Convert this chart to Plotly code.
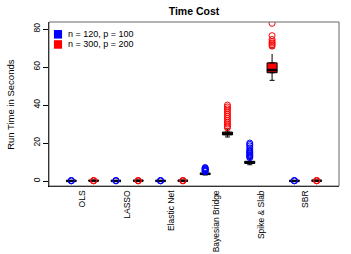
import plotly.graph_objects as go

methods = ["OLS", "LASSO", "Elastic Net", "Bayesian Bridge", "Spike & Slab", "SBR"]
groups = ["n = 120, p = 100", "n = 300, p = 200"]
colors = ["#0000FF", "#FF0000"]

# box statistics per method: [group1, group2]
q1 = [[0.05, 0.15], [0.05, 0.15], [0.05, 0.15], [3.5, 24.3], [9.3, 57.0], [0.05, 0.15]]
med = [[0.1, 0.2], [0.1, 0.2], [0.1, 0.2], [3.8, 24.9], [9.8, 58.4], [0.1, 0.2]]
q3 = [[0.15, 0.3], [0.15, 0.3], [0.15, 0.3], [4.1, 25.8], [10.4, 62.2], [0.15, 0.3]]
lo = [[0.0, 0.05], [0.0, 0.05], [0.0, 0.05], [3.2, 23.2], [8.6, 53.0], [0.0, 0.05]]
hi = [[0.25, 0.45], [0.25, 0.45], [0.25, 0.45], [4.8, 27.4], [11.8, 70.0], [0.25, 0.45]]
outliers = [
    [[0.1, 0.2, 0.3], [0.1, 0.2, 0.3]],
    [[0.1, 0.2, 0.3], [0.1, 0.2, 0.3]],
    [[0.1, 0.2, 0.3], [0.1, 0.2, 0.3]],
    [[5.0, 5.3, 5.6, 5.9, 6.2, 6.5, 6.8, 7.1],
     [28.0, 29.0, 30.0, 31.0, 32.0, 33.0, 34.0, 35.0, 36.0, 37.0, 38.0, 39.0, 40.0]],
    [[12.3, 12.8, 13.3, 13.8, 14.3, 14.8, 15.3, 15.8, 16.5, 17.5, 18.5, 19.3, 20.0],
     [71.0, 71.8, 72.6, 73.4, 74.5, 76.5, 83.0]],
    [[0.1, 0.2, 0.3], [0.1, 0.2, 0.3]],
]

W = 0.45
fig = go.Figure()
for i, m in enumerate(methods):
    for g in range(2):
        pos = 2 * i + 1 + g
        c = colors[g]
        fig.add_trace(go.Box(
            x=[pos], q1=[q1[i][g]], median=[med[i][g]], q3=[q3[i][g]],
            lowerfence=[q1[i][g]], upperfence=[q3[i][g]],
            width=W, fillcolor=c, line=dict(color="black", width=1),
            boxpoints=False, showlegend=False, hoverinfo="skip"))
        fig.add_trace(go.Scatter(
            x=[pos, pos, None, pos, pos],
            y=[q3[i][g], hi[i][g], None, q1[i][g], lo[i][g]],
            mode="lines", line=dict(color="black", width=1, dash="dash"),
            showlegend=False, hoverinfo="skip"))
        fig.add_trace(go.Scatter(
            x=[pos - W / 4, pos + W / 4, None, pos - W / 4, pos + W / 4],
            y=[hi[i][g], hi[i][g], None, lo[i][g], lo[i][g]],
            mode="lines", line=dict(color="black", width=1),
            showlegend=False, hoverinfo="skip"))
        fig.add_trace(go.Scatter(
            x=[pos - W / 2, pos + W / 2], y=[med[i][g], med[i][g]],
            mode="lines", line=dict(color="black", width=2.5),
            showlegend=False, hoverinfo="skip"))
        fig.add_trace(go.Scatter(
            x=[pos] * len(outliers[i][g]), y=outliers[i][g], mode="markers",
            marker=dict(symbol="circle-open", color=c, size=6, line=dict(width=1)),
            showlegend=False, hoverinfo="skip"))

# legend drawn manually (compact, like base R)
shapes = [dict(type="rect", xref="paper", yref="paper", x0=0, y0=0, x1=1, y1=1,
               line=dict(color="#666666", width=1))]
annotations = []
for g in range(2):
    yc = 0.925 - g * 0.062
    shapes.append(dict(type="rect", xref="paper", yref="paper",
                       x0=0.017, x1=0.045, y0=yc - 0.026, y1=yc + 0.026,
                       fillcolor=colors[g], line=dict(width=0)))
    annotations.append(dict(text=groups[g], xref="paper", yref="paper", x=0.058, y=yc,
                            xanchor="left", yanchor="middle", showarrow=False,
                            font=dict(size=9)))
annotations.append(dict(text="Run Time in Seconds", xref="paper", yref="paper",
                        x=-0.135, y=0.5, xanchor="center", yanchor="middle",
                        textangle=-90, showarrow=False, font=dict(size=9.5)))

fig.update_layout(
    width=351, height=254,
    margin=dict(l=49, r=12, t=22, b=68),
    paper_bgcolor="white", plot_bgcolor="white",
    font=dict(family="Liberation Sans, Arial, sans-serif", size=9, color="black"),
    title=dict(text="<b>Time Cost</b>", xref="paper", x=0.5, xanchor="center",
               y=0.955, yanchor="middle", font=dict(size=10.5)),
    showlegend=False,
    xaxis=dict(range=[0.0, 13.0], tickmode="array", automargin=False,
               tickvals=[2 * i + 1.5 for i in range(len(methods))], ticktext=methods,
               tickangle=-90, ticks="", showgrid=False, zeroline=False,
               showline=True, linecolor="black", linewidth=1, tickfont=dict(size=8.5)),
    yaxis=dict(range=[-2.6, 83.7], tickvals=[0, 20, 40, 60, 80], tickangle=-90,
               automargin=False,
               ticks="outside", ticklen=5, tickcolor="black", showgrid=False,
               zeroline=False, showline=True, linecolor="black", linewidth=1,
               tickfont=dict(size=8.5)),
    shapes=shapes, annotations=annotations,
)

fig.write_html("out.html", config={"displayModeBar": False},
               post_script="document.body.style.margin='0';document.body.style.padding='0';")
